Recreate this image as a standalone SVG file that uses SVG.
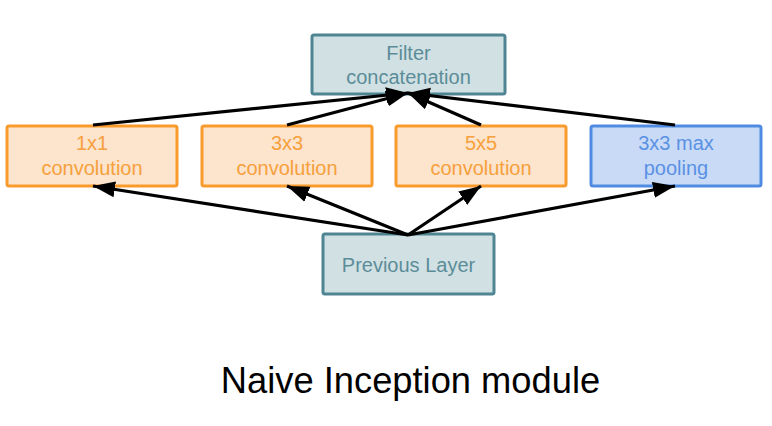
<svg xmlns="http://www.w3.org/2000/svg" width="772" height="426" viewBox="0 0 772 426">
<style>
.teal rect{fill:#d1e0e3;stroke:#4f8592;stroke-width:3}
.teal text{fill:#5b8d99}
.orange rect{fill:#fce4cd;stroke:#f89b2c;stroke-width:3}
.orange text{fill:#f7a03c}
.blue rect{fill:#c9daf6;stroke:#4f8be2;stroke-width:3}
.blue text{fill:#5a91e4}
text{font-family:"Liberation Sans",Arial,sans-serif;font-size:20px;text-anchor:middle}
.edge{stroke:#000;stroke-width:3.2;fill:none;marker-end:url(#ah)}
</style>
<defs>
<marker id="ah" markerUnits="userSpaceOnUse" markerWidth="24" markerHeight="18" refX="22" refY="9" orient="auto">
<path d="M0,1 L22,9 L0,17 z" fill="#000"/>
</marker>
</defs>
<rect width="772" height="426" fill="#fff"/>
<g id="filter-concat" class="teal">
<rect x="312" y="35" width="193" height="59" rx="2"/>
<text x="408.5" y="60">Filter</text>
<text x="408.5" y="84">concatenation</text>
</g>
<g id="conv1x1" class="orange">
<rect x="7" y="126" width="170" height="60" rx="2"/>
<text x="92" y="150">1x1</text>
<text x="92" y="175">convolution</text>
</g>
<g id="conv3x3" class="orange">
<rect x="202" y="126" width="170" height="60" rx="2"/>
<text x="287" y="150">3x3</text>
<text x="287" y="175">convolution</text>
</g>
<g id="conv5x5" class="orange">
<rect x="396" y="126" width="170" height="60" rx="2"/>
<text x="481" y="150">5x5</text>
<text x="481" y="175">convolution</text>
</g>
<g id="maxpool" class="blue">
<rect x="591" y="126" width="170" height="60" rx="2"/>
<text x="676" y="150">3x3 max</text>
<text x="676" y="175">pooling</text>
</g>
<g id="previous-layer" class="teal">
<rect x="323" y="234" width="171" height="60" rx="2"/>
<text x="408.5" y="272">Previous Layer</text>
</g>
<g id="connectors">
<path class="edge" d="M93,125 L408,93"/>
<path class="edge" d="M287,125 L408,93"/>
<path class="edge" d="M481,125 L408,93"/>
<path class="edge" d="M675,125 L408,93"/>
<path class="edge" d="M408,235 L93,186"/>
<path class="edge" d="M408,235 L287,186"/>
<path class="edge" d="M408,235 L481,186"/>
<path class="edge" d="M408,235 L675,186"/>
</g>
<text x="410.5" y="393" style="font-size:36.3px;fill:#000">Naive Inception module</text>
</svg>
